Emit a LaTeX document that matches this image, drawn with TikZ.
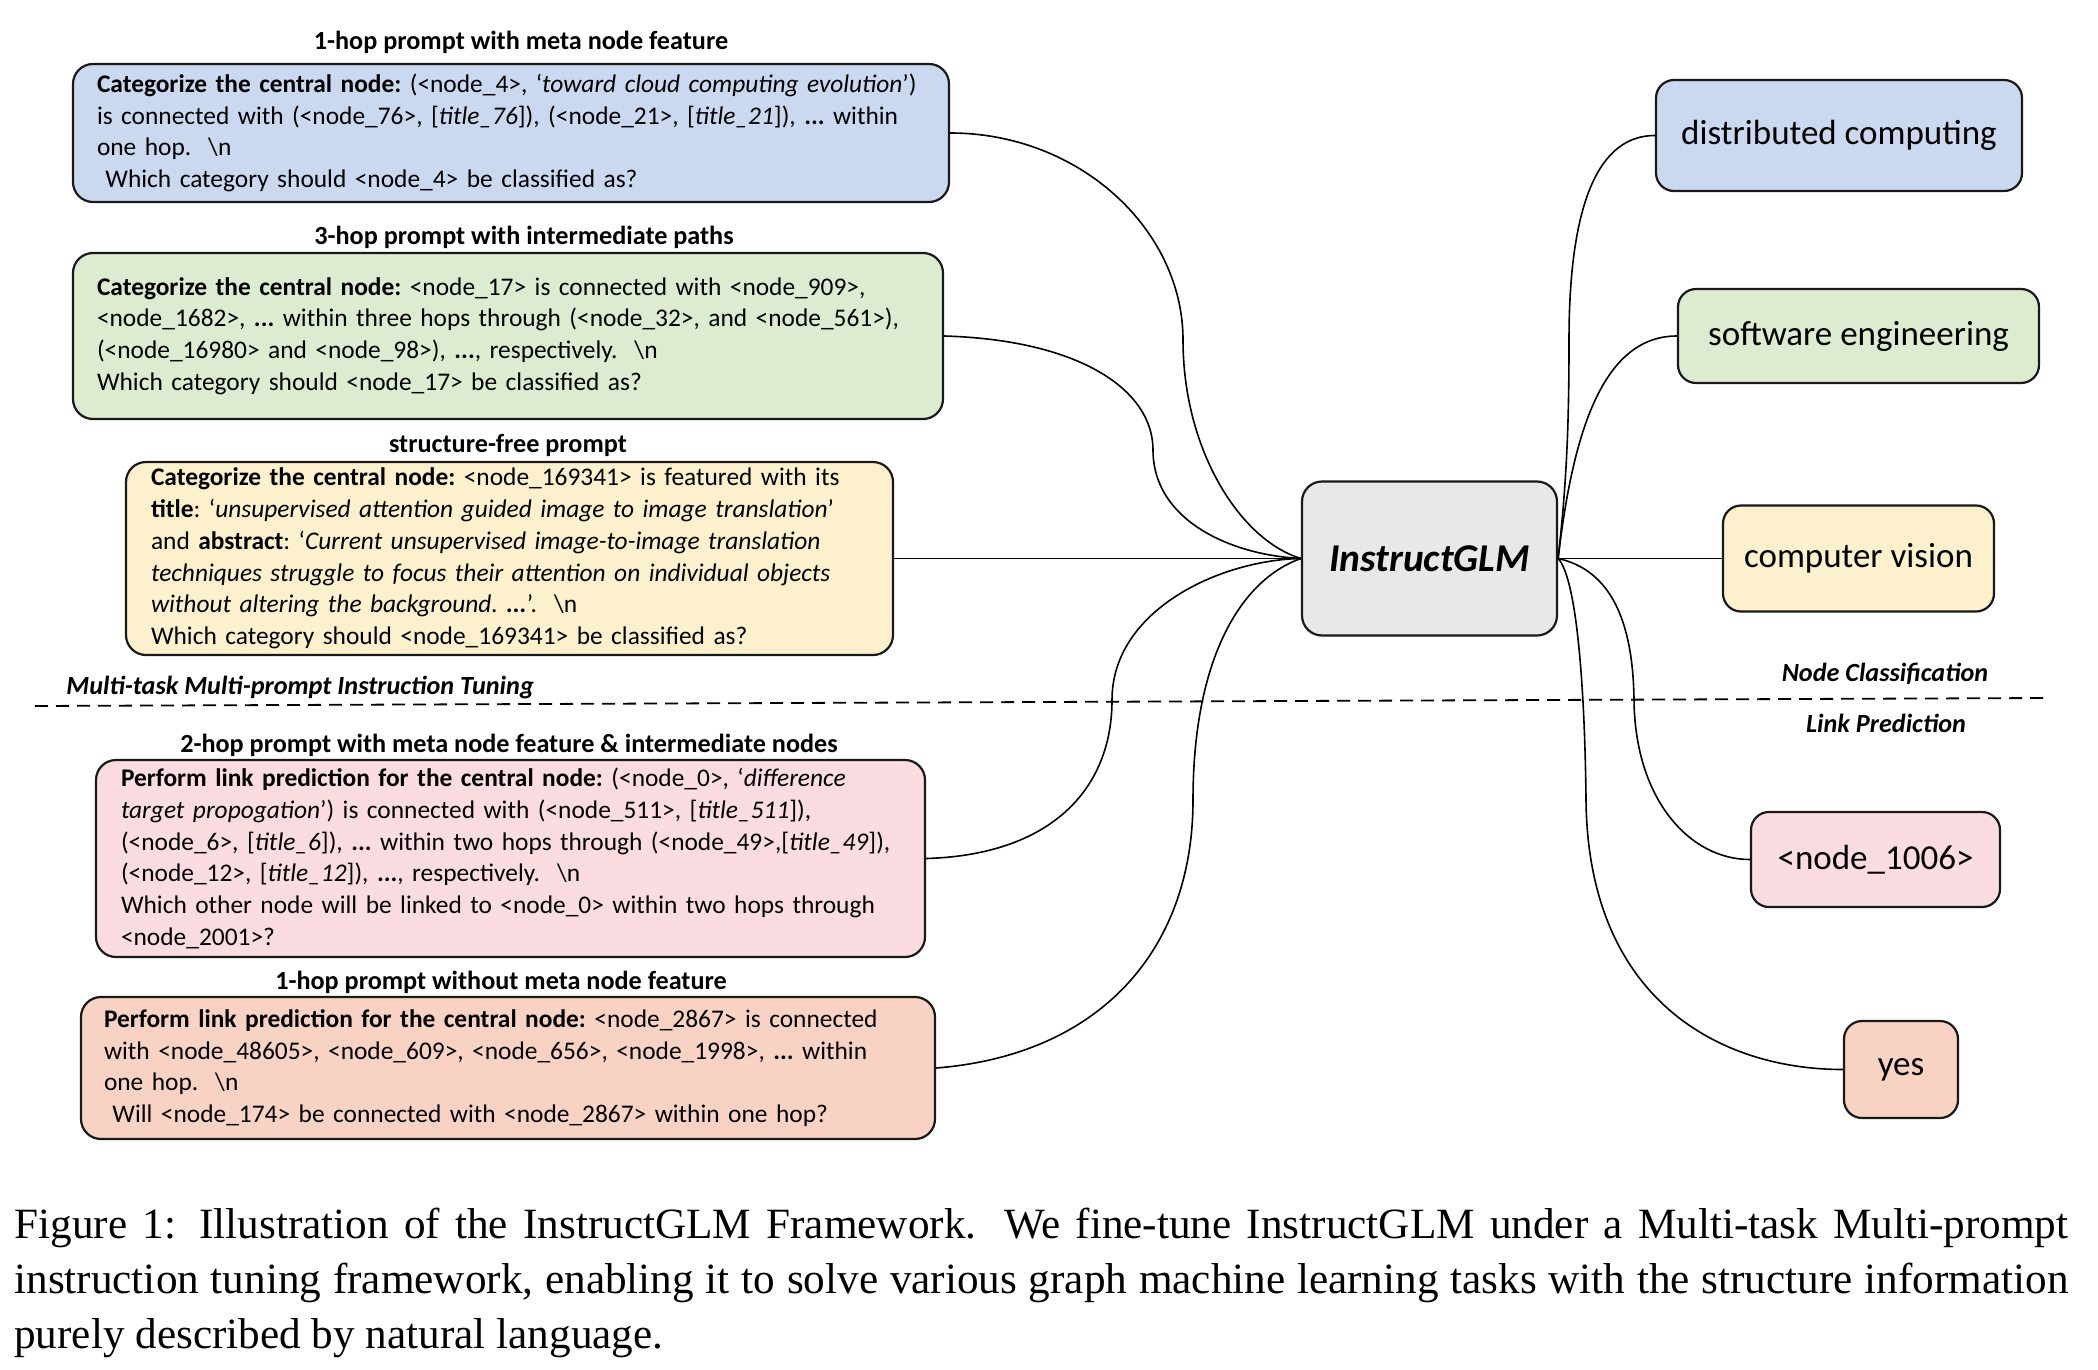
\documentclass[tikz,border=0pt]{standalone}
\usepackage{fontspec}
\setmainfont{Carlito}
\newfontfamily\capfont{Liberation Serif}
\definecolor{cblue}{HTML}{CAD8F0}
\definecolor{cgreen}{HTML}{DDEBD1}
\definecolor{cyellow}{HTML}{FDF0CD}
\definecolor{cpink}{HTML}{FADCE1}
\definecolor{csalmon}{HTML}{F8D2C3}
\definecolor{cgray}{HTML}{E8E8E8}
\newcommand\pl[1]{\mbox{#1}}
\begin{document}
\begin{tikzpicture}[x=0.5pt,y=-0.5pt,
  pbox/.style={draw=black!90, line width=1.1pt, rounded corners=10pt, inner xsep=12pt, inner ysep=0pt, align=left, font=\frenchspacing\fontsize{12.7}{15.85}\selectfont},
  ttl/.style={font=\bfseries\fontsize{13.1}{15}\selectfont, inner sep=0pt},
  lbox/.style={draw=black!90, line width=1.1pt, rounded corners=9pt, font=\fontsize{17.5}{20}\selectfont, inner sep=0pt},
  tag/.style={font=\bfseries\itshape\fontsize{13.1}{15}\selectfont, inner sep=0pt},
  conn/.style={line width=0.8pt}
]
\useasboundingbox (0,0) rectangle (2098,1370);

% titles
\node[ttl] (t1) at (521,42) {1-hop prompt with meta node feature};
\node[ttl] (t2) at (524,237) {3-hop prompt with intermediate paths};
\node[ttl] (t3) at (508,445) {structure-free prompt};
\node[ttl] (t4) at (509,745) {2-hop prompt with meta node feature \& intermediate nodes};
\node[ttl] (t5) at (501,982) {1-hop prompt without meta node feature};

% prompt boxes
\node[pbox, fill=cblue, minimum width=438pt, minimum height=69pt, text width=414pt] (p1) at (511,133) {%
\pl{\textbf{Categorize the central node:} (<node\_4>, ‘\textit{toward cloud computing evolution}’)}\\
\pl{is connected with (<node\_76>, [\textit{title\_76}]), (<node\_21>, [\textit{title\_21}]), \textbf{...} within}\\
\pl{one hop.\ \ \textbackslash n}\\
\pl{\ Which category should <node\_4> be classified as?}};

\node[pbox, fill=cgreen, minimum width=435pt, minimum height=83pt, text width=411pt] (p2) at (508,336) {%
\pl{\textbf{Categorize the central node:} <node\_17> is connected with <node\_909>,}\\
\pl{<node\_1682>, \textbf{...} within three hops through (<node\_32>, and <node\_561>),}\\
\pl{(<node\_16980> and <node\_98>), \textbf{...}, respectively.\ \ \textbackslash n}\\
\pl{Which category should <node\_17> be classified as?}};

\node[pbox, fill=cyellow, minimum width=383.5pt, minimum height=96.5pt, text width=358.5pt, inner xsep=12.5pt] (p3) at (509.5,558.5) {%
\pl{\textbf{Categorize the central node:} <node\_169341> is featured with its}\\
\pl{\textbf{title}: ‘\textit{unsupervised attention guided image to image translation}’}\\
\pl{and \textbf{abstract}: ‘\textit{Current unsupervised image-to-image translation}}\\
\pl{\textit{techniques struggle to focus their attention on individual objects}}\\
\pl{\textit{without altering the background. \textbf{...}}’.\ \ \textbackslash n}\\
\pl{Which category should <node\_169341> be classified as?}};

\node[pbox, fill=cpink, minimum width=414.5pt, minimum height=98.5pt, text width=389.5pt, inner xsep=12.5pt] (p4) at (510.5,858.5) {%
\pl{\textbf{Perform link prediction for the central node:} (<node\_0>, ‘\textit{difference}}\\
\pl{\textit{target propogation}’) is connected with (<node\_511>, [\textit{title\_511}]),}\\
\pl{(<node\_6>, [\textit{title\_6}]), \textbf{...} within two hops through (<node\_49>,[\textit{title\_49}]),}\\
\pl{(<node\_12>, [\textit{title\_12}]), \textbf{...}, respectively.\ \ \textbackslash n}\\
\pl{Which other node will be linked to <node\_0> within two hops through}\\
\pl{<node\_2001>?}};

\node[pbox, fill=csalmon, minimum width=427pt, minimum height=71pt, text width=404pt, inner xsep=11.5pt] (p5) at (508,1068) {%
\pl{\textbf{Perform link prediction for the central node:} <node\_2867> is connected}\\
\pl{with <node\_48605>, <node\_609>, <node\_656>, <node\_1998>, \textbf{...} within}\\
\pl{one hop.\ \ \textbackslash n}\\
\pl{\ Will <node\_174> be connected with <node\_2867> within one hop?}};

% central node
\node[draw=black!90, line width=1.1pt, rounded corners=10pt, fill=cgray, minimum width=127.5pt, minimum height=77pt, inner sep=0pt, font=\bfseries\itshape\fontsize{19.7}{22}\selectfont] (glm) at (1429.5,558.5) {InstructGLM};

% answer boxes
\node[lbox, fill=cblue, minimum width=183pt, minimum height=55.5pt] (a1) at (1839,135.5) {distributed computing};
\node[lbox, fill=cgreen, minimum width=180.5pt, minimum height=47pt] (a2) at (1858.5,336) {software engineering};
\node[lbox, fill=cyellow, minimum width=135.5pt, minimum height=53pt] (a3) at (1858.5,558.5) {computer vision};
\node[lbox, fill=cpink, minimum width=124.5pt, minimum height=47.5pt] (a4) at (1875.5,859.5) {<node\_1006>};
\node[lbox, fill=csalmon, minimum width=57pt, minimum height=48.5pt] (a5) at (1901,1069.5) {yes};

% separator and tags
\coordinate (dl) at (35,706);
\coordinate (dr) at (2047,698);
\draw[line width=0.9pt, dash pattern=on 6.5pt off 4pt] (dl) -- (dr);
\node[tag, anchor=west] (mt) at (66,688) {Multi-task Multi-prompt Instruction Tuning};
\node[tag] (nc) at (1885,674) {Node Classification};
\node[tag] (lp) at (1886,723) {Link Prediction};

% connectors left
\draw[conn] (p1.east) .. controls (1080,133) and (1183,230) .. (1183,340)
  .. controls (1183,450) and (1240,540) .. (glm.west);
\draw[conn] (p2.east) .. controls (1080,340) and (1153,390) .. (1153,450)
  .. controls (1153,520) and (1230,555) .. (glm.west);
\draw[conn] (p3.east) -- (glm.west);
\draw[conn] (p4.east) .. controls (1050,855) and (1112,790) .. (1112,700)
  .. controls (1112,610) and (1220,560) .. (glm.west);
\draw[conn] (p5.east) .. controls (1100,1055) and (1193,950) .. (1193,800)
  .. controls (1193,660) and (1240,580) .. (glm.west);

% connectors right
\draw[conn] (glm.east) .. controls (1567,480) and (1569,420) .. (1569,340)
  .. controls (1569,200) and (1600,135.5) .. (a1.west);
\draw[conn] (glm.east) .. controls (1572,440) and (1600,336) .. (a2.west);
\draw[conn] (glm.east) -- (a3.west);
\draw[conn] (glm.east) .. controls (1610,570) and (1633,620) .. (1634,700)
  .. controls (1635,800) and (1690,859.5) .. (a4.west);
\draw[conn] (glm.east) .. controls (1578,580) and (1585,700) .. (1586,800)
  .. controls (1588,1000) and (1720,1069.5) .. (a5.west);

% caption
\node[anchor=north west, inner sep=0pt, text width=1027pt, align=justify, font=\capfont\fontsize{21.6}{27.5}\selectfont] (cap) at (14,1208) {\hyphenpenalty=10000 \exhyphenpenalty=10000 Figure 1: Illustration of the InstructGLM Framework. We fine-tune InstructGLM under a Multi-task Multi-prompt\linebreak instruction tuning framework, enabling it to solve various graph machine learning tasks with the structure information\linebreak purely described by natural language.};
\end{tikzpicture}
\end{document}
